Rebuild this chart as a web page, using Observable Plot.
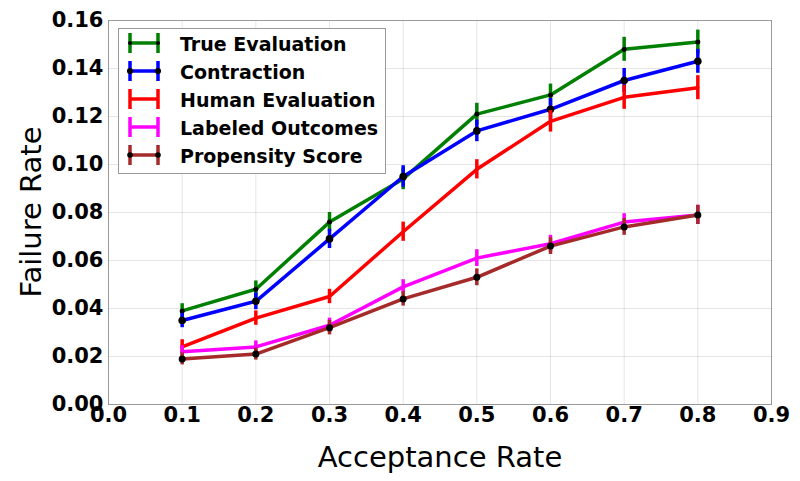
<!DOCTYPE html>
<html>
<head>
<meta charset="utf-8">
<script src="https://cdn.jsdelivr.net/npm/d3@7"></script>
<script src="https://cdn.jsdelivr.net/npm/@observablehq/plot@0.6"></script>
<style>
  html, body { margin: 0; padding: 0; background: #fff; }
  #chart { width: 800px; height: 481px; }
</style>
</head>
<body>
<div id="chart"></div>
<script>
const acceptance = [0.1, 0.2, 0.3, 0.4, 0.5, 0.6, 0.7, 0.8];
const seriesNames = ["True Evaluation", "Contraction", "Human Evaluation", "Labeled Outcomes", "Propensity Score"];
const seriesColors = ["#008000", "#0000ff", "#ff0000", "#ff00ff", "#a52a2a"];
const seriesDots = [2.5, 3.8, 0, 0, 3.5];

const trueEvaluation   = [0.039, 0.048, 0.076, 0.094, 0.121, 0.129, 0.148, 0.151];
const contraction      = [0.035, 0.043, 0.069, 0.095, 0.114, 0.123, 0.135, 0.143];
const humanEvaluation  = [0.024, 0.036, 0.045, 0.072, 0.098, 0.118, 0.128, 0.132];
const labeledOutcomes  = [0.022, 0.024, 0.033, 0.049, 0.061, 0.067, 0.076, 0.079];
const propensityScore  = [0.019, 0.021, 0.032, 0.044, 0.053, 0.066, 0.074, 0.079];

const errTrue       = [0.003, 0.0035, 0.004, 0.0045, 0.0045, 0.0045, 0.005, 0.005];
const errContract   = [0.003, 0.0035, 0.004, 0.0045, 0.0045, 0.0045, 0.005, 0.005];
const errHuman      = [0.003, 0.003, 0.003, 0.004, 0.004, 0.0045, 0.005, 0.005];
const errLabeled    = [0.0025, 0.0025, 0.003, 0.003, 0.0035, 0.0035, 0.0035, 0.004];
const errPropensity = [0.0025, 0.0025, 0.003, 0.003, 0.0035, 0.0035, 0.0035, 0.004];

const xTicks = [0, 0.1, 0.2, 0.3, 0.4, 0.5, 0.6, 0.7, 0.8, 0.9];
const yTicks = [0, 0.02, 0.04, 0.06, 0.08, 0.10, 0.12, 0.14, 0.16];

const values = [trueEvaluation, contraction, humanEvaluation, labeledOutcomes, propensityScore];
const errors = [errTrue, errContract, errHuman, errLabeled, errPropensity];

const rows = [];
seriesNames.forEach((name, i) => {
  acceptance.forEach((x, j) => {
    rows.push({series: name, idx: i, x, y: values[i][j], lo: values[i][j] - errors[i][j], hi: values[i][j] + errors[i][j]});
  });
});

const font = "DejaVu Sans, sans-serif";
const marks = [
  Plot.gridX(xTicks, {stroke: "#000", strokeOpacity: 0.1, strokeWidth: 1}),
  Plot.gridY(yTicks, {stroke: "#000", strokeOpacity: 0.1, strokeWidth: 1}),
  Plot.axisX({ticks: xTicks, tickSize: 0, tickPadding: 3, tickFormat: d3.format(".1f"), label: null,
    fontSize: 21, fontWeight: "bold", fill: "#000"}),
  Plot.axisY({ticks: yTicks, tickSize: 0, tickPadding: 5, tickFormat: d3.format(".2f"), label: null,
    fontSize: 21, fontWeight: "bold", fill: "#000"})
];
seriesNames.forEach((name, i) => {
  const data = rows.filter(r => r.idx === i);
  marks.push(Plot.ruleX(data, {x: "x", y1: "lo", y2: "hi", stroke: seriesColors[i], strokeWidth: 3.5}));
  marks.push(Plot.line(data, {x: "x", y: "y", stroke: seriesColors[i], strokeWidth: 3.5}));
  if (seriesDots[i] > 0) marks.push(Plot.dot(data, {x: "x", y: "y", r: seriesDots[i], fill: "#000", stroke: "none"}));
});
marks.push(Plot.frame({stroke: "#999", strokeWidth: 1}));

const chart = Plot.plot({
  width: 800,
  height: 481,
  marginLeft: 108,
  marginRight: 29,
  marginTop: 20,
  marginBottom: 77,
  style: {fontFamily: font, background: "#fff", overflow: "visible"},
  x: {domain: [0, 0.9]},
  y: {domain: [0, 0.16]},
  marks
});

const svg = d3.select(chart);
// Axis titles
svg.append("text").attr("x", 440).attr("y", 457)
  .attr("text-anchor", "middle").attr("dominant-baseline", "central")
  .attr("font-family", font).attr("font-size", 29).attr("fill", "#000").text("Acceptance Rate");
svg.append("text").attr("transform", "translate(31,212) rotate(-90)")
  .attr("text-anchor", "middle").attr("dominant-baseline", "central")
  .attr("font-family", font).attr("font-size", 29).attr("fill", "#000").text("Failure Rate");

// Legend
const lg = svg.append("g");
lg.append("rect").attr("x", 118.5).attr("y", 28.5).attr("width", 267).attr("height", 145)
  .attr("fill", "#fff").attr("stroke", "#999").attr("stroke-width", 1);
seriesNames.forEach((name, i) => {
  const cy = 43 + i * 28;
  const g = lg.append("g");
  g.append("line").attr("x1", 130).attr("x2", 158).attr("y1", cy).attr("y2", cy)
    .attr("stroke", seriesColors[i]).attr("stroke-width", 3.5);
  [130, 158].forEach(x => {
    g.append("line").attr("x1", x).attr("x2", x).attr("y1", cy - 10).attr("y2", cy + 10)
      .attr("stroke", seriesColors[i]).attr("stroke-width", 3.5);
    if (seriesDots[i] > 0) g.append("circle").attr("cx", x).attr("cy", cy).attr("r", seriesDots[i] * 0.8).attr("fill", "#000");
  });
  g.append("text").attr("x", 180).attr("y", cy + 1).attr("text-anchor", "start").attr("dominant-baseline", "central")
    .attr("font-family", font).attr("font-size", 19).attr("font-weight", "bold").attr("fill", "#000").text(name);
});

document.getElementById("chart").appendChild(chart);
</script>
</body>
</html>
